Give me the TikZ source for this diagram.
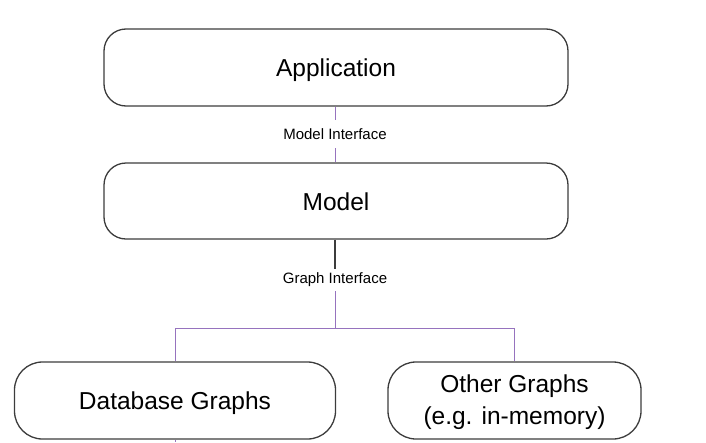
\documentclass[tikz,border=0pt]{standalone}
\usepackage{fontspec}
\setmainfont{Liberation Sans}
\definecolor{boxline}{RGB}{60,60,60}
\definecolor{conline}{RGB}{150,115,190}
\newcommand{\lowertext}[2]{\raisebox{-#1}[\height][\depth]{#2}}
\tikzset{
  layerbox/.style={draw=boxline, line width=1.3pt, rounded corners=22pt, inner sep=0pt,
    font=\fontsize{24.5}{32}\selectfont, align=center},
  lowbox/.style={layerbox, rounded corners=28pt},
  iflabel/.style={inner sep=0pt, font=\fontsize{15}{16}\selectfont},
  conn/.style={draw=conline, line width=0.9pt},
  darkconn/.style={draw=boxline, line width=1.4pt}
}
\begin{document}
\begin{tikzpicture}[x=1pt,y=-1pt]
\useasboundingbox (0,0) rectangle (706,442);
\node[layerbox, minimum width=464pt, minimum height=77pt] (app) at (336,67.5) {\lowertext{3pt}{Application}};
\node[layerbox, minimum width=464pt, minimum height=76pt] (model) at (336,201) {\lowertext{1pt}{Model}};
\node[lowbox, minimum width=321pt, minimum height=77pt] (db) at (175,400.5) {\lowertext{3pt}{Database Graphs}};
\node[lowbox, minimum width=253pt, minimum height=77pt] (og) at (514.5,400.5) {\lowertext{2pt}{\parbox{240pt}{\centering Other Graphs\\(e.g. in-memory)}}};
\node[iflabel, minimum height=28pt] (mi) at (335,134) {Model Interface};
\node[iflabel, minimum height=22pt] (gi) at (335,280) {Graph Interface};
\coordinate (j) at (335,328.7);
\coordinate (stub) at (175,442);
\draw[conn] (app.south -| mi.north) -- (mi.north);
\draw[conn] (mi.south) -- (model.north -| mi.south);
\draw[darkconn] (model.south -| gi.north) -- (gi.north);
\draw[conn] (gi.south) -- (j) -| (db.north);
\draw[conn] (j) -| (og.north);
\draw[conn] (db.south) -- (stub);
\end{tikzpicture}
\end{document}
